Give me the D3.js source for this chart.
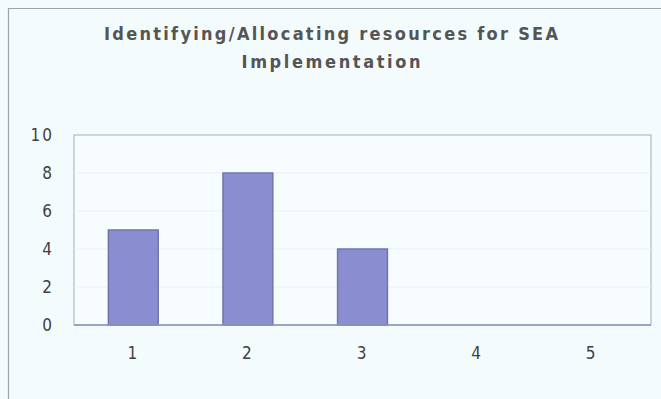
<!DOCTYPE html>
<html>
<head>
<meta charset="utf-8">
<script src="https://cdn.jsdelivr.net/npm/d3@7"></script>
<style>
  html, body { margin: 0; padding: 0; background: #f4fbfd; }
  svg { display: block; }
  text { font-family: "DejaVu Sans Condensed", "Liberation Sans Narrow", sans-serif; font-stretch: condensed; fill: #555; }
  .title { font-weight: bold; }
  .tick text { font-weight: normal; fill: #3f3f3f; }
</style>
</head>
<body>
<div id="chart"></div>
<script>
// Data
const categories = ["1", "2", "3", "4", "5"];
const values = [5, 8, 4, 0, 0];
const yTicks = [0, 2, 4, 6, 8, 10];
const titleLines = ["Identifying/Allocating resources for SEA", "Implementation"];

// Chart settings
const W = 661, H = 399;
const margin = { top: 135, right: 10, bottom: 74, left: 74 },
      width = W - margin.left - margin.right,
      height = H - margin.top - margin.bottom;

const root = d3.select("#chart")
  .append("svg")
  .attr("width", W)
  .attr("height", H);

// Background and outer border (only left and top show in the crop)
root.append("rect").attr("width", W).attr("height", H).attr("fill", "#f4fbfd");
root.append("path")
  .attr("d", `M8.5,${H} L8.5,8.5 L${W},8.5`)
  .attr("fill", "none")
  .attr("stroke", "#9ea3ad")
  .attr("stroke-width", 1.2);

// Title
const titleW = [454, 179];
root.selectAll(".title")
  .data(titleLines)
  .enter()
  .append("text")
  .attr("class", "title")
  .attr("x", 331)
  .attr("y", (d, i) => 40 + i * 28)
  .attr("text-anchor", "middle")
  .attr("font-size", 18)
  .attr("textLength", (d, i) => titleW[i])
  .attr("lengthAdjust", "spacing")
  .text(d => d);

const svg = root.append("g")
  .attr("transform", `translate(${margin.left},${margin.top})`);

// Scales
const xScale = d3.scaleBand()
  .domain(categories)
  .range([0, width])
  .paddingInner(0.565)
  .paddingOuter(0.3);

const yScale = d3.scaleLinear()
  .domain([0, 10])
  .range([height, 0]);

// Plot area
svg.append("rect")
  .attr("width", width)
  .attr("height", height)
  .attr("fill", "#f7fcfe")
  .attr("stroke", "#a7abb6")
  .attr("stroke-width", 1);

// Faint gridlines
svg.selectAll(".grid")
  .data(yTicks.filter(t => t > 0 && t < 10))
  .enter()
  .append("line")
  .attr("x1", 0)
  .attr("x2", width)
  .attr("y1", d => yScale(d))
  .attr("y2", d => yScale(d))
  .attr("stroke", "#eaf1f4")
  .attr("stroke-width", 1);

// Bars
svg.selectAll(".bar")
  .data(values)
  .enter()
  .append("rect")
  .attr("class", "bar")
  .attr("x", (d, i) => xScale(categories[i]))
  .attr("y", d => yScale(d))
  .attr("width", xScale.bandwidth())
  .attr("height", d => height - yScale(d))
  .attr("fill", "#8a8ed0")
  .attr("stroke", "#7175ad")
  .attr("stroke-width", 1.5)
  .style("display", d => d > 0 ? null : "none");

// Baseline
svg.append("line")
  .attr("x1", 0).attr("x2", width)
  .attr("y1", height).attr("y2", height)
  .attr("stroke", "#8f93b8")
  .attr("stroke-width", 1.5);

// Y axis
const yAxis = d3.axisLeft(yScale).tickValues(yTicks).tickSize(0).tickPadding(20);
svg.append("g")
  .call(yAxis)
  .call(g => g.select(".domain").remove())
  .selectAll("text")
  .attr("font-size", 17)
  .attr("letter-spacing", 2);

// X axis
const xAxis = d3.axisBottom(xScale).tickSize(0).tickPadding(22);
svg.append("g")
  .attr("transform", `translate(-1,${height})`)
  .call(xAxis)
  .call(g => g.select(".domain").remove())
  .selectAll("text")
  .attr("font-size", 17);
</script>
</body>
</html>
